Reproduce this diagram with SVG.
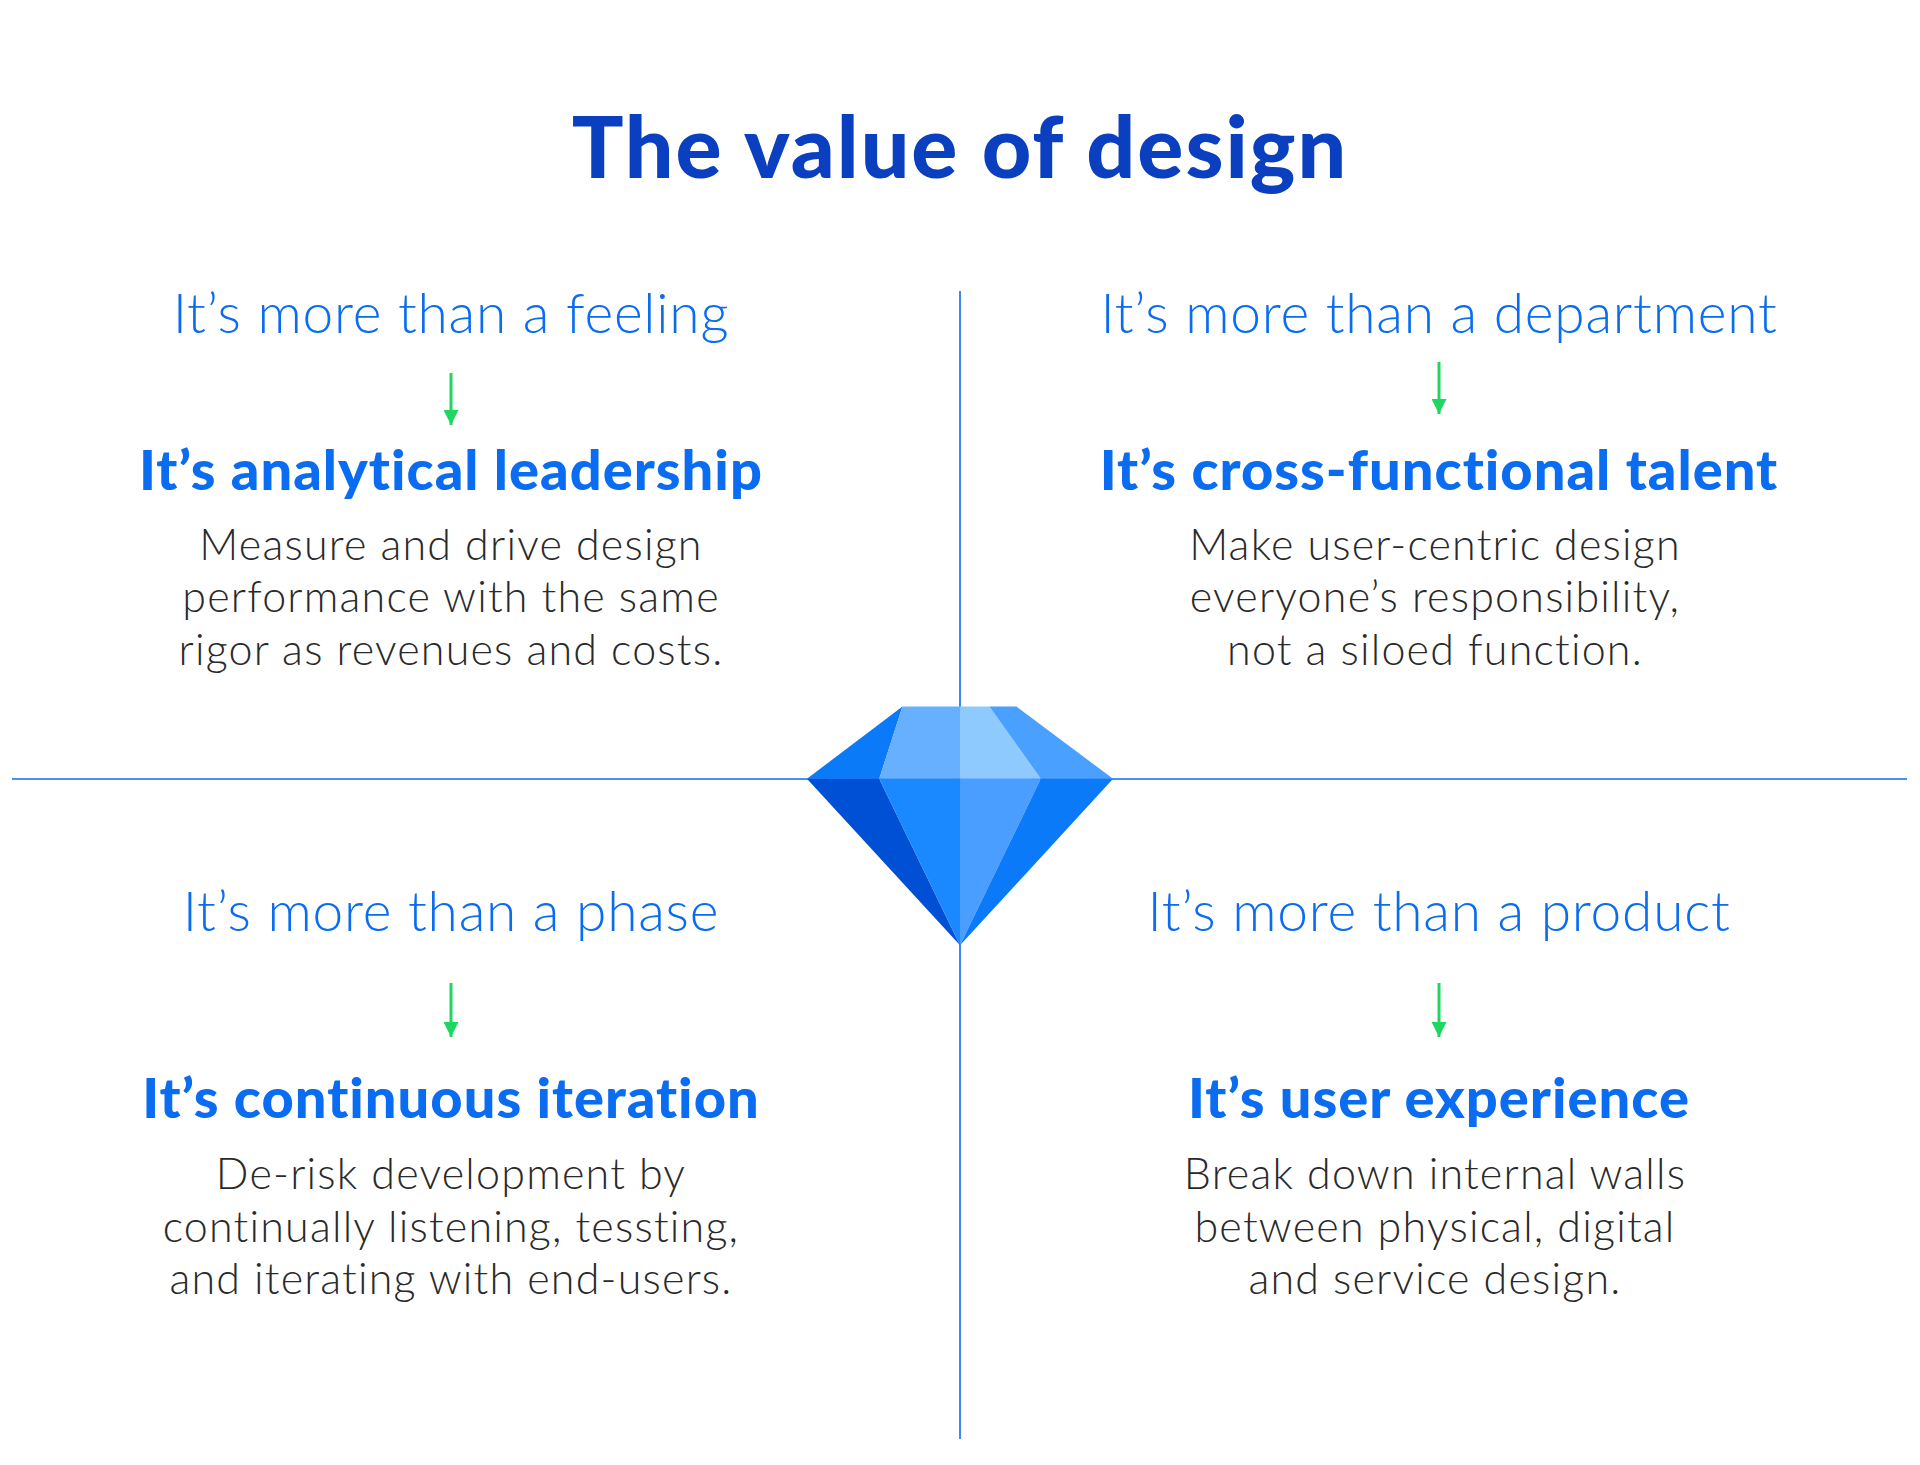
<svg xmlns="http://www.w3.org/2000/svg" width="1920" height="1465" viewBox="0 0 1920 1465">
<style>
.t{font-family:Lato,"Open Sans",sans-serif;text-anchor:middle}
.title{font-size:86px;font-weight:900;fill:#0a3fc0;letter-spacing:2px}
.sub{font-size:55px;font-weight:300;fill:#0a6cf0;letter-spacing:0.8px}
.head{font-size:56px;font-weight:900;fill:#0a6cf0;letter-spacing:1px}
.body{font-size:43px;font-weight:300;fill:#2a2a2a;letter-spacing:1.2px}
.ln{stroke:#0a6cf0;stroke-width:1.6}
.ar{stroke:#1ed760;stroke-width:3}
</style>
<defs>
<marker id="a2" viewBox="0 0 10 10" refX="10" refY="5" markerWidth="5" markerHeight="5" orient="auto"><path d="M0,0 L10,5 L0,10 Z" fill="#1ed760"/></marker></defs>
<rect width="1920" height="1465" fill="#fff"/>
<text class="t title" x="960" y="178">The value of design</text>
<g id="connectors">
<line class="ln" x1="960" y1="291" x2="960" y2="1439"/>
<line class="ln" x1="12" y1="779" x2="1907" y2="779"/>
<line class="ar" x1="451" y1="373" x2="451" y2="425" marker-end="url(#a2)"/>
<line class="ar" x1="1439" y1="362" x2="1439" y2="414" marker-end="url(#a2)"/>
<line class="ar" x1="451" y1="983" x2="451" y2="1037" marker-end="url(#a2)"/>
<line class="ar" x1="1439" y1="983" x2="1439" y2="1037" marker-end="url(#a2)"/>
</g>
<g id="diamond" transform="scale(1.2245)">
<polygon points="659,636 737,577 718,636" fill="#0a7af8"/>
<polygon points="737,577 784,577 784,636 718,636" fill="#66b0ff"/>
<polygon points="784,577 808,577 850,636 784,636" fill="#8fcaff"/>
<polygon points="808,577 830,577 909,636 850,636" fill="#4aa0ff"/>
<polygon points="659,636 718,636 784,772" fill="#0050d6"/>
<polygon points="718,636 784,636 784,772" fill="#1a88ff"/>
<polygon points="784,636 850,636 784,772" fill="#4a9eff"/>
<polygon points="850,636 909,636 784,772" fill="#0a7af8"/>
</g>
<g id="q1" class="t">
<text class="sub" x="451" y="333">It’s more than a feeling</text>
<text class="head" x="451" y="490">It’s analytical leadership</text>
<text class="body" x="451" y="560">Measure and drive design</text>
<text class="body" x="451" y="612">performance with the same</text>
<text class="body" x="451" y="665">rigor as revenues and costs.</text>
</g>
<g id="q2" class="t">
<text class="sub" x="1439" y="333">It’s more than a department</text>
<text class="head" x="1439" y="490">It’s cross-functional talent</text>
<text class="body" x="1435" y="560">Make user-centric design</text>
<text class="body" x="1435" y="612">everyone’s responsibility,</text>
<text class="body" x="1435" y="665">not a siloed function.</text>
</g>
<g id="q3" class="t">
<text class="sub" x="451" y="931">It’s more than a phase</text>
<text class="head" x="451" y="1118">It’s continuous iteration</text>
<text class="body" x="451" y="1189">De-risk development by</text>
<text class="body" x="451" y="1242">continually listening, tessting,</text>
<text class="body" x="451" y="1294">and iterating with end-users.</text>
</g>
<g id="q4" class="t">
<text class="sub" x="1439" y="931">It’s more than a product</text>
<text class="head" x="1439" y="1118">It’s user experience</text>
<text class="body" x="1435" y="1189">Break down internal walls</text>
<text class="body" x="1435" y="1242">between physical, digital</text>
<text class="body" x="1435" y="1294">and service design.</text>
</g>
</svg>
